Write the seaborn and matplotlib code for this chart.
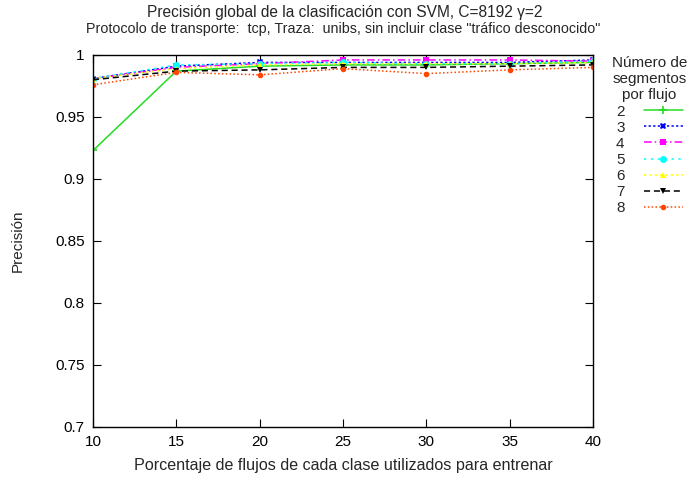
import matplotlib
matplotlib.use("Agg")
import matplotlib.pyplot as plt
import seaborn as sns
import pandas as pd

sns.set_style("ticks")
plt.rcParams["font.family"] = ["Liberation Sans", "DejaVu Sans"]

porcentajes = [10, 15, 20, 25, 30, 35, 40]
seg_2 = [0.923, 0.987, 0.991, 0.992, 0.992, 0.993, 0.994]
seg_3 = [0.981, 0.991, 0.994, 0.994, 0.994, 0.994, 0.996]
seg_4 = [0.981, 0.990, 0.993, 0.996, 0.996, 0.996, 0.995]
seg_5 = [0.981, 0.992, 0.993, 0.994, 0.993, 0.993, 0.995]
seg_6 = [0.981, 0.989, 0.992, 0.993, 0.993, 0.993, 0.994]
seg_7 = [0.980, 0.987, 0.988, 0.990, 0.990, 0.991, 0.992]
seg_8 = [0.976, 0.986, 0.984, 0.989, 0.985, 0.988, 0.990]

series = {"2": seg_2, "3": seg_3, "4": seg_4, "5": seg_5,
          "6": seg_6, "7": seg_7, "8": seg_8}

estilos = {
    "2": dict(color="#22dd22", ls="-", marker="+", ms=6, mew=1.2),
    "3": dict(color="#0000ff", ls=(0, (1.5, 1.5)), marker="X", ms=5, mew=0),
    "4": dict(color="#ff00ff", ls=(0, (5, 2, 1, 2)), marker="s", ms=5, mew=0),
    "5": dict(color="#00ffff", ls=(0, (1.5, 3)), marker="o", ms=5, mew=0),
    "6": dict(color="#ffff00", ls=(0, (1.5, 2)), marker="^", ms=5, mew=0),
    "7": dict(color="#000000", ls=(0, (4, 2.5)), marker="v", ms=4, mew=0),
    "8": dict(color="#ff4500", ls=(0, (1, 1.5)), marker="o", ms=4, mew=0),
}

filas = []
for nombre, valores in series.items():
    for x, y in zip(porcentajes, valores):
        filas.append({"porcentaje": x, "precision": y, "segmentos": nombre})
df = pd.DataFrame(filas)

W, H = 689, 479
fig = plt.figure(figsize=(W / 100, H / 100), dpi=100)
ax = fig.add_axes([93 / W, 1 - 427 / H, 500 / W, 372 / H])

for nombre in series:
    e = estilos[nombre]
    sub = df[df["segmentos"] == nombre]
    sns.lineplot(data=sub, x="porcentaje", y="precision", ax=ax,
                 color=e["color"], linestyle=e["ls"], linewidth=1.1,
                 marker=e["marker"], markersize=e["ms"],
                 markeredgewidth=e["mew"], markeredgecolor=e["color"],
                 label=nombre)

FS = 11
ax.set_xlim(10, 40)
ax.set_ylim(0.7, 1.0)
ax.set_xticks(porcentajes)
ax.set_yticks([0.7, 0.75, 0.8, 0.85, 0.9, 0.95, 1.0])
ax.set_yticklabels(["0.7", "0.75", "0.8", "0.85", "0.9", "0.95", "1"])
ax.tick_params(direction="in", length=6, width=0.8, labelsize=FS,
               top=True, right=True, colors="black", pad=6)
for s in ax.spines.values():
    s.set_linewidth(1.0)
    s.set_color("black")

ax.set_xlabel("Porcentaje de flujos de cada clase utilizados para entrenar",
              fontsize=11.6, labelpad=6)
ax.set_ylabel("Precisión", fontsize=FS, labelpad=22)

fig.text(345 / W, 1 - 12 / H,
         "Precisión global de la clasificación con SVM, C=8192 γ=2",
         ha="center", va="center", fontsize=11.2)
fig.text(343 / W, 1 - 29 / H,
         "Protocolo de transporte:  tcp, Traza:  unibs, sin incluir clase \"tráfico desconocido\"",
         ha="center", va="center", fontsize=10.3)

leg = ax.legend(title="Número de\nsegmentos\npor flujo", loc="upper right",
                frameon=False, markerfirst=False, fontsize=FS,
                title_fontsize=FS, handlelength=2.5, handletextpad=1.3,
                labelspacing=0.14, borderaxespad=0, borderpad=0,
                alignment="center")
leg.set_bbox_to_anchor((687 / W, 1 - 56 / H), transform=fig.transFigure)
leg.get_title().set_multialignment("center")
leg.get_title().set_linespacing(1.2)

fig.savefig("out.png", dpi=100)
